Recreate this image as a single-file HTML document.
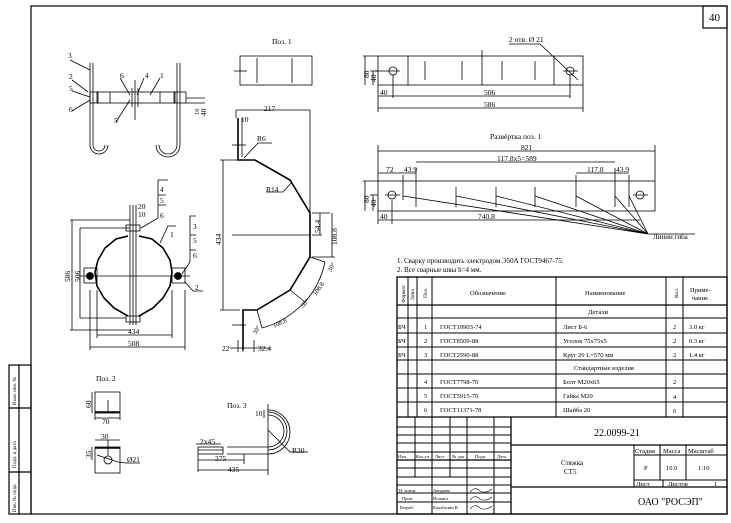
<!DOCTYPE html>
<html><head><meta charset="utf-8"><style>
html,body{margin:0;padding:0;background:#fff}
svg{display:block}
text{font-family:"Liberation Serif",serif;fill:#000}
</style></head><body>
<svg width="731" height="523" viewBox="0 0 731 523" xmlns="http://www.w3.org/2000/svg">
<g fill="none" stroke="#000" stroke-width="1.2">
<rect x="31" y="6" width="696" height="508"/>
<rect x="703" y="6" width="24" height="22"/>
<rect x="9" y="365" width="22" height="149"/>
<line x1="19" y1="365" x2="19" y2="514"/>
<line x1="9" y1="408" x2="31" y2="408"/>
<line x1="9" y1="472" x2="31" y2="472"/>
</g>
<text x="709" y="21" font-size="11" font-family="Liberation Sans">40</text>
<g font-size="5" transform="rotate(-90)">
<text x="-405" y="16">Взам. инв. №</text>
<text x="-468" y="16">Подп. и дата</text>
<text x="-512" y="16">Инв. № подл.</text>
</g>

<!-- Table -->
<text x="397" y="263" font-size="7">1. Сварку производить электродом Э50А ГОСТ9467-75.</text>
<text x="397" y="272" font-size="7">2. Все сварные швы h=4 мм.</text>
<g fill="none" stroke="#000" stroke-width="1">
<rect x="397" y="277" width="330" height="237" stroke-width="1.3"/>
<line x1="397" y1="305" x2="727" y2="305" stroke-width="1.3"/>
<line x1="397" y1="318" x2="727" y2="318"/>
<line x1="397" y1="333" x2="727" y2="333"/>
<line x1="397" y1="347" x2="727" y2="347"/>
<line x1="397" y1="360" x2="727" y2="360"/>
<line x1="397" y1="374" x2="727" y2="374"/>
<line x1="397" y1="388" x2="727" y2="388"/>
<line x1="397" y1="402" x2="727" y2="402"/>
<line x1="397" y1="417" x2="727" y2="417" stroke-width="1.3"/>
<line x1="408" y1="277" x2="408" y2="417"/>
<line x1="417" y1="277" x2="417" y2="417"/>
<line x1="432" y1="277" x2="432" y2="417"/>
<line x1="556" y1="277" x2="556" y2="417"/>
<line x1="666" y1="277" x2="666" y2="417"/>
<line x1="683" y1="277" x2="683" y2="417"/>
<line x1="511" y1="417" x2="511" y2="514" stroke-width="1.3"/>
<line x1="415" y1="417" x2="415" y2="477"/>
<line x1="432" y1="417" x2="432" y2="514"/>
<line x1="450" y1="417" x2="450" y2="477"/>
<line x1="467" y1="417" x2="467" y2="514"/>
<line x1="494" y1="417" x2="494" y2="514"/>
<line x1="397" y1="427" x2="511" y2="427"/>
<line x1="397" y1="435" x2="511" y2="435"/>
<line x1="397" y1="443" x2="511" y2="443"/>
<line x1="397" y1="452" x2="511" y2="452"/>
<line x1="397" y1="460" x2="511" y2="460" stroke-width="1.3"/>
<line x1="397" y1="468" x2="511" y2="468"/>
<line x1="397" y1="477" x2="511" y2="477"/>
<line x1="397" y1="485" x2="511" y2="485"/>
<line x1="397" y1="493" x2="511" y2="493"/>
<line x1="397" y1="502" x2="511" y2="502"/>
<line x1="511" y1="445" x2="727" y2="445" stroke-width="1.3"/>
<line x1="511" y1="487" x2="727" y2="487" stroke-width="1.3"/>
<line x1="634" y1="445" x2="634" y2="487"/>
<line x1="660" y1="445" x2="660" y2="480"/>
<line x1="686" y1="445" x2="686" y2="480"/>
<line x1="634" y1="455" x2="727" y2="455"/>
<line x1="634" y1="480" x2="727" y2="480"/>
<line x1="663" y1="480" x2="663" y2="487"/>
</g>
<g font-size="6.5">
<text x="470" y="295">Обозначение</text>
<text x="585" y="295">Наименование</text>
<text x="690" y="292">Приме-</text>
<text x="692" y="300">чание</text>
<text x="588" y="314">Детали</text>
<text x="398" y="329">БЧ</text><text x="424" y="329">1</text><text x="440" y="329">ГОСТ19903-74</text><text x="563" y="329">Лист Б-6</text><text x="673" y="329">2</text><text x="689" y="329">3.0 кг</text>
<text x="398" y="343">БЧ</text><text x="424" y="343">2</text><text x="440" y="343">ГОСТ8509-88</text><text x="563" y="343">Уголок 75х75х5</text><text x="673" y="343">2</text><text x="689" y="343">0.3 кг</text>
<text x="398" y="357">БЧ</text><text x="424" y="357">3</text><text x="440" y="357">ГОСТ2590-88</text><text x="563" y="357">Круг 20 L=570 мм</text><text x="673" y="357">2</text><text x="689" y="357">1.4 кг</text>
<text x="574" y="370">Стандартные изделия</text>
<text x="424" y="384">4</text><text x="440" y="384">ГОСТ7798-70</text><text x="563" y="384">Болт М20х65</text><text x="673" y="384">2</text>
<text x="424" y="398">5</text><text x="440" y="398">ГОСТ5915-70</text><text x="563" y="398">Гайка М20</text><text x="673" y="399">4</text>
<text x="424" y="412">6</text><text x="440" y="412">ГОСТ11371-78</text><text x="563" y="412">Шайба 20</text><text x="673" y="413">6</text>
</g>
<g font-size="5.5" transform="rotate(-90)">
<text x="-303" y="405">Формат</text><text x="-300" y="414">Зона</text><text x="-298" y="427">Поз.</text><text x="-298" y="678">Кол.</text>
</g>
<g font-size="4.5">
<text x="398" y="458">Изм.</text><text x="416" y="458">Кол.уч.</text><text x="435" y="458">Лист</text><text x="452" y="458">№ док.</text><text x="475" y="458">Подп.</text><text x="497" y="458">Дата</text>
<text x="399" y="492">Н. контр.</text><text x="433" y="492">Авидина</text>
<text x="402" y="500">Пров.</text><text x="433" y="500">Исмаил</text>
<text x="400" y="509">Разраб.</text><text x="433" y="509">Калабалин В</text>
</g>
<g fill="none" stroke="#000" stroke-width="0.6">
<path d="M470 492 q5 -6 10 -1 q6 3 12 -2"/><path d="M470 500 q5 -6 10 -1 q6 3 12 -2"/><path d="M470 509 q5 -6 10 -1 q6 3 12 -2"/>
</g>
<text x="594" y="436" font-size="10" font-family="Liberation Sans">22.0099-21</text>
<text x="561" y="465" font-size="7">Стяжка</text>
<text x="564" y="474" font-size="7">СТ5</text>
<g font-size="6.5">
<text x="635" y="453">Стадия</text><text x="663" y="453">Масса</text><text x="688" y="453">Масштаб</text>
<text x="644" y="470">Р</text><text x="666" y="470">10.0</text><text x="698" y="470">1:10</text>
<text x="636" y="486">Лист</text><text x="668" y="486">Листов</text><text x="714" y="486">1</text>
</g>
<text x="638" y="505" font-size="10" font-family="Liberation Sans">ОАО "РОСЭП"</text>

<g fill="none" stroke="#000" stroke-width="0.8">
<line x1="90" y1="63" x2="90" y2="140"/><line x1="93" y1="63" x2="93" y2="140"/>
<path d="M90 140 v5 a9 9 0 0 0 18 0 M93 140 v5 a6 6 0 0 0 12 0"/>
<line x1="177" y1="63" x2="177" y2="140"/><line x1="180" y1="63" x2="180" y2="140"/>
<path d="M177 140 v5 a9 9 0 0 1 -18 0 M180 140 v5 a12 12 0 0 1 -24 0"/>
<rect x="97" y="92" width="78" height="11"/>
<rect x="90" y="92" width="8" height="11"/><rect x="174" y="92" width="12" height="11"/>
<line x1="135" y1="80" x2="135" y2="120"/><line x1="132" y1="88" x2="132" y2="107"/><line x1="138" y1="88" x2="138" y2="107"/>
<line x1="110" y1="92" x2="110" y2="103"/><line x1="160" y1="92" x2="160" y2="103"/>
<line x1="186" y1="98" x2="205" y2="98"/><line x1="186" y1="103" x2="205" y2="103"/>
<path d="M70 60 L90 70 M72 80 L88 92 M72 91 L90 97 M72 111 L90 100 M120 78 L130 95 M144 78 L137 95 M160 78 L150 95 M116 122 L130 100"/>
<rect x="240" y="56" width="72" height="29"/>
<line x1="257" y1="58" x2="257" y2="83"/><line x1="292" y1="58" x2="292" y2="83"/><line x1="234" y1="71" x2="247" y2="71"/>
<path d="M238 118 V160 H255 L290 180 L310 213 V257 L290 290 L257 310 H243 V350" stroke-width="1.6"/>
<path d="M242 118 V157"/>
<line x1="236" y1="110" x2="310" y2="110"/><line x1="310" y1="110" x2="310" y2="250"/>
<line x1="236" y1="110" x2="236" y2="118"/>
<line x1="220" y1="160" x2="240" y2="160"/><line x1="220" y1="310" x2="240" y2="310"/><line x1="223" y1="160" x2="223" y2="310"/>
<line x1="232" y1="235" x2="310" y2="235"/>
<line x1="232" y1="145" x2="246" y2="145"/><line x1="232" y1="325" x2="246" y2="325"/>
<path d="M244 158 L258 143 H272 M292 182 L283 192 H266"/>
<path d="M312 213 H330 M312 235 H322 M312 257 H335 M320 213 V235 M332 213 V257"/>
<path d="M310 257 L325 262 M290 290 L305 302 M257 310 L262 328 M325 262 Q320 285 305 302 M305 302 Q285 322 262 328"/>
<path d="M230 348 H270 M238 340 V352 M243 340 V352 M254 340 V352"/>
<path d="M128,236 L116,239 L105,248 L98,260 L95,272 L97,286 L104,298 L114,308 L128,316 M139,316 L153,308 L163,298 L170,286 L172,272 L170,260 L163,248 L152,239 L139,236" stroke-width="1.6"/>
<line x1="133" y1="205" x2="133" y2="325"/><line x1="130" y1="205" x2="130" y2="325"/><line x1="136" y1="205" x2="136" y2="325"/>
<line x1="80" y1="276" x2="190" y2="276"/>
<rect x="84" y="268" width="13" height="15"/><rect x="172" y="268" width="13" height="15"/>
<circle cx="90" cy="276" r="3.5" fill="#000"/><circle cx="178" cy="276" r="3.5" fill="#000"/>
<rect x="126" y="225" width="14" height="6"/><rect x="126" y="316" width="14" height="6"/>
<path d="M70 220 H130 M80 228 H130 M70 330 H130 M80 318 H126 M72 220 V330 M80 228 V318"/>
<path d="M97 290 V338 M172 290 V338 M97 335 H172 M90 290 V350 M185 290 V350 M90 347 H185"/>
<path d="M141 228 L158 218 V180 H168 M158 195 H166 M158 205 H166 M160 243 L168 226 H176 M182 274 L190 262 V216 H196 M190 235 H196 M190 250 H196 M185 282 L193 291 H203"/>
<rect x="378" y="56" width="205" height="29"/>
<line x1="408" y1="56" x2="408" y2="85"/><line x1="554" y1="56" x2="554" y2="85"/>
<line x1="425" y1="61" x2="425" y2="80"/><line x1="462" y1="61" x2="462" y2="80"/><line x1="502" y1="61" x2="502" y2="80"/><line x1="535" y1="61" x2="535" y2="80"/>
<line x1="482" y1="50" x2="482" y2="85"/>
<circle cx="393" cy="71" r="4"/><circle cx="570" cy="71" r="4"/>
<path d="M375 71 H400 M563 71 H578 M509 44 H540 L578 80"/>
<path d="M378 85 V112 M393 75 V98 M570 75 V98 M378 96 H570 M378 108 H583 M583 85 V112 M363 56 H378 M370 71 H378 M365 56 V85 M373 71 V85"/>
<rect x="378" y="181" width="277" height="30"/>
<circle cx="392" cy="195" r="4"/><circle cx="640" cy="195" r="4"/>
<path d="M385 195 H400 M633 195 H648"/>
<path d="M403 175 V200 M416 168 V207 M456 187 V207 M496 187 V207 M535 187 V207 M576 175 V207 M615 168 V207 M629 175 V207"/>
<path d="M378 145 V181 M655 145 V181 M378 151 H655 M416 162 H615 M378 173 H403 M403 173 H416 M576 173 H615 M615 173 H629"/>
<path d="M403 196 L648 234 M416 198 L648 234 M456 196 L648 234 M496 196 L648 234 M535 196 L648 234 M576 196 L648 234 M615 196 L648 234 M629 196 L648 234 M648 234 H695"/>
<path d="M378 211 V224 M392 200 V224 M378 220 H392 M392 220 H640 M363 181 H378 M370 195 H378 M365 181 V211 M373 195 V211"/>
<rect x="95" y="392" width="25" height="21"/><line x1="95" y1="412" x2="120" y2="412" stroke-width="1.5"/>
<line x1="108" y1="400" x2="108" y2="412"/>
<path d="M92 392 V413 M95 418 H120 M95 413 V420 M120 413 V420"/>
<rect x="95" y="447" width="25" height="26"/><line x1="95" y1="448" x2="120" y2="448" stroke-width="1.5"/>
<circle cx="108" cy="460" r="4"/>
<path d="M95 440 H120 M108 440 V456 M92 447 V460 M97 455 L118 462 L126 463 H140"/>
<rect x="198" y="447" width="25" height="7"/><path d="M227 447 H268 M227 454 H268 M198 450 H223"/>
<path d="M268 447 A16 16 0 0 0 268 415 M268 454 A22 22 0 0 0 268 410 M268 450 A19 19 0 0 0 268 412"/>
<path d="M264 410 V418 M268 404 V475 M268 430 L290 452 H308 M198 454 V472 M244 454 V464 M198 460 H244 M198 470 H268 M196 444 H221"/>
</g>
<g font-size="7.5">
<text x="68" y="58">3</text><text x="69" y="79">2</text><text x="69" y="91">5</text><text x="69" y="112">6</text>
<text x="120" y="78">6</text><text x="145" y="78">4</text><text x="160" y="78">1</text><text x="114" y="123">5</text>
<text x="272" y="44">Поз. 1</text>
<text x="264" y="111">217</text><text x="241" y="122">10</text><text x="257" y="141">R6</text><text x="266" y="192">R14</text>
<text x="0" y="0" transform="translate(199,115) rotate(-90)" font-size="6.5">10</text>
<text x="0" y="0" transform="translate(206,116) rotate(-90)">40</text>
<text x="0" y="0" transform="translate(221,245) rotate(-90)">434</text>
<text x="0" y="0" transform="translate(320,233) rotate(-90)">54.4</text>
<text x="0" y="0" transform="translate(337,245) rotate(-90)">108.8</text>
<text x="0" y="0" transform="translate(331,272) rotate(-60)" font-size="6.5">30°</text>
<text x="0" y="0" transform="translate(316,296) rotate(-55)" font-size="6.5">108.8</text>
<text x="0" y="0" transform="translate(303,308) rotate(-45)" font-size="6.5">30°</text>
<text x="0" y="0" transform="translate(274,328) rotate(-25)" font-size="6.5">108.8</text>
<text x="0" y="0" transform="translate(256,335) rotate(-60)" font-size="6.5">30°</text>
<text x="222" y="351">22</text><text x="258" y="351">32.4</text>
<text x="160" y="192">4</text><text x="160" y="203">5</text><text x="160" y="218">6</text>
<text x="138" y="209">20</text><text x="138" y="217">10</text><text x="170" y="237">1</text>
<text x="193" y="229">3</text><text x="193" y="243">5</text><text x="193" y="258">6</text><text x="195" y="290">2</text>
<text x="0" y="0" transform="translate(70,282) rotate(-90)">586</text>
<text x="0" y="0" transform="translate(80,282) rotate(-90)">506</text>
<text x="128" y="334">434</text><text x="128" y="346">508</text>
<text x="509" y="42">2 отв. Ø 21</text>
<text x="0" y="0" transform="translate(369,78) rotate(-90)">80</text>
<text x="0" y="0" transform="translate(376,82) rotate(-90)">40</text>
<text x="380" y="95">40</text><text x="484" y="95">506</text><text x="484" y="107">586</text>
<text x="490" y="139">Развёртка поз. 1</text>
<text x="521" y="150">821</text><text x="497" y="161">117.8x5=589</text>
<text x="386" y="172">72</text><text x="404" y="172">43.9</text><text x="587" y="172">117.8</text><text x="616" y="172">43.9</text>
<text x="0" y="0" transform="translate(369,203) rotate(-90)">80</text>
<text x="0" y="0" transform="translate(376,207) rotate(-90)">40</text>
<text x="380" y="219">40</text><text x="478" y="219">740.8</text>
<text x="653" y="239" font-size="7">Линии гиба</text>
<text x="96" y="381">Поз. 2</text>
<text x="0" y="0" transform="translate(91,408) rotate(-90)">60</text>
<text x="102" y="424">70</text><text x="101" y="439">30</text>
<text x="0" y="0" transform="translate(91,458) rotate(-90)">35</text>
<text x="127" y="462">Ø21</text>
<text x="227" y="408">Поз. 3</text>
<text x="255" y="416">10</text><text x="292" y="453">R30</text>
<text x="200" y="444">2x45</text><text x="215" y="461">375</text><text x="228" y="472">435</text>
</g>
</svg>
</body></html>
